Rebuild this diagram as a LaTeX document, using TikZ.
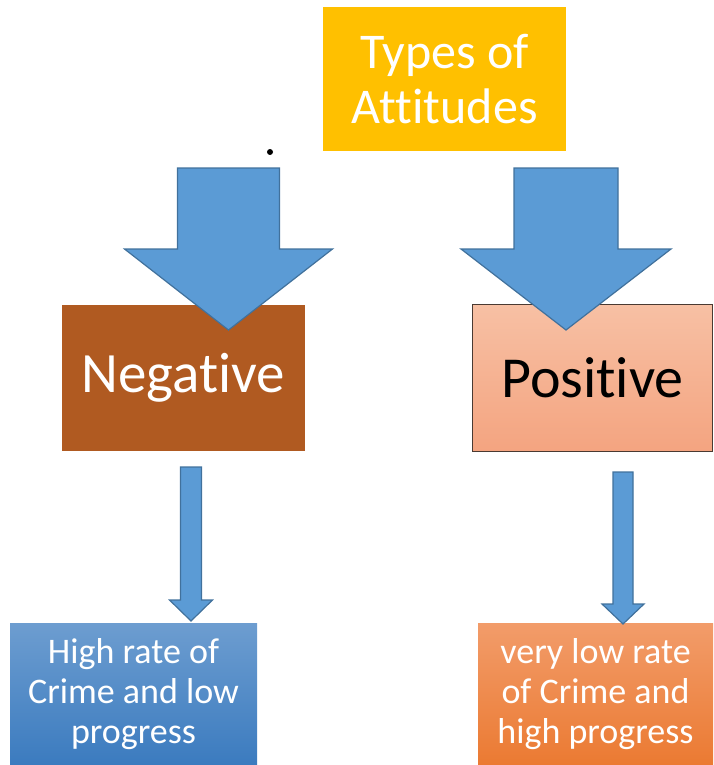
\documentclass[tikz,border=0pt]{standalone}
\usepackage{fontspec}
\setmainfont{Carlito}
\usetikzlibrary{calc}
\definecolor{titlegold}{HTML}{FFC000}
\definecolor{negbrown}{HTML}{B05A21}
\definecolor{postop}{HTML}{F7C0A4}
\definecolor{posbottom}{HTML}{F4A480}
\definecolor{posline}{HTML}{4A3A32}
\definecolor{lowbluetop}{HTML}{6D9DD0}
\definecolor{lowbluebottom}{HTML}{3B7BBF}
\definecolor{highorangetop}{HTML}{F29C6A}
\definecolor{highorangebottom}{HTML}{EB7A32}
\definecolor{arrowblue}{HTML}{5B9BD5}
\definecolor{arrowline}{HTML}{41719C}
\tikzset{
  box/.style={
    rectangle, inner sep=0pt, align=center, text=white
  },
  titlebox/.style={box, fill=titlegold, minimum width=243pt, minimum height=144pt,
    font=\fontsize{50}{55}\selectfont},
  attbox/.style={box, minimum height=146pt, font=\fontsize{57}{60}\selectfont},
  resultbox/.style={box, minimum height=142pt, font=\fontsize{36}{40}\selectfont},
  arrowfill/.style={fill=arrowblue, draw=arrowline, line width=1.2pt, line join=miter}
}
% keeps t and i apart (no ligature)
\newcommand{\nolig}{\kern0pt}
% block arrow: start, end, shaft half width, head half width, head length
\newcommand{\blockarrow}[5]{
  \draw[arrowfill] ($#1+(-#3,0)$) -- ($#2+(-#3,-#5)$) -- ($#2+(-#4,-#5)$) -- #2
    -- ($#2+(#4,-#5)$) -- ($#2+(#3,-#5)$) -- ($#1+(#3,0)$) -- cycle;
}

\begin{document}
\begin{tikzpicture}[x=1pt,y=-1pt]
\useasboundingbox (0,0) rectangle (713,765);
\node[titlebox] (types) at (444.5,79) {Types of\\At\nolig t\nolig i\nolig tudes};
\node[circle, fill=black, inner sep=0pt, minimum size=6pt] (dot) at (270,152) {};
\node[attbox, fill=negbrown, minimum width=243pt] (neg) at (183.5,378) {Negat\nolig ive};
\node[attbox, top color=postop, bottom color=posbottom, draw=posline, line width=0.8pt,
  text=black, minimum width=240pt, minimum height=147pt,
  font=\fontsize{58}{60}\selectfont] (pos) at (592.5,378) {Posit\nolig ive};
\node[resultbox, top color=lowbluetop, bottom color=lowbluebottom, minimum width=247pt]
  (low) at (133.5,694) {High rate of\\Crime and low\\progress};
\node[resultbox, top color=highorangetop, bottom color=highorangebottom, minimum width=235pt]
  (high) at (595.5,694) {very low rate\\of Crime and\\high progress};
% arrow ends
\coordinate (negtop) at (228.5,168);
\coordinate (negtip) at (228.5,330);
\coordinate (postop) at (566,168);
\coordinate (postip) at (566,330);
\coordinate (lowtop) at (191,467);
\coordinate (lowtip) at (191,621);
\coordinate (hightop) at (623,472);
\coordinate (hightip) at (623,624);
\blockarrow{(negtop)}{(negtip)}{51}{104}{81}
\blockarrow{(postop)}{(postip)}{52}{105}{81}
\blockarrow{(lowtop)}{(lowtip)}{10.5}{21.5}{21}
\blockarrow{(hightop)}{(hightip)}{10}{21}{20}
\end{tikzpicture}
\end{document}
